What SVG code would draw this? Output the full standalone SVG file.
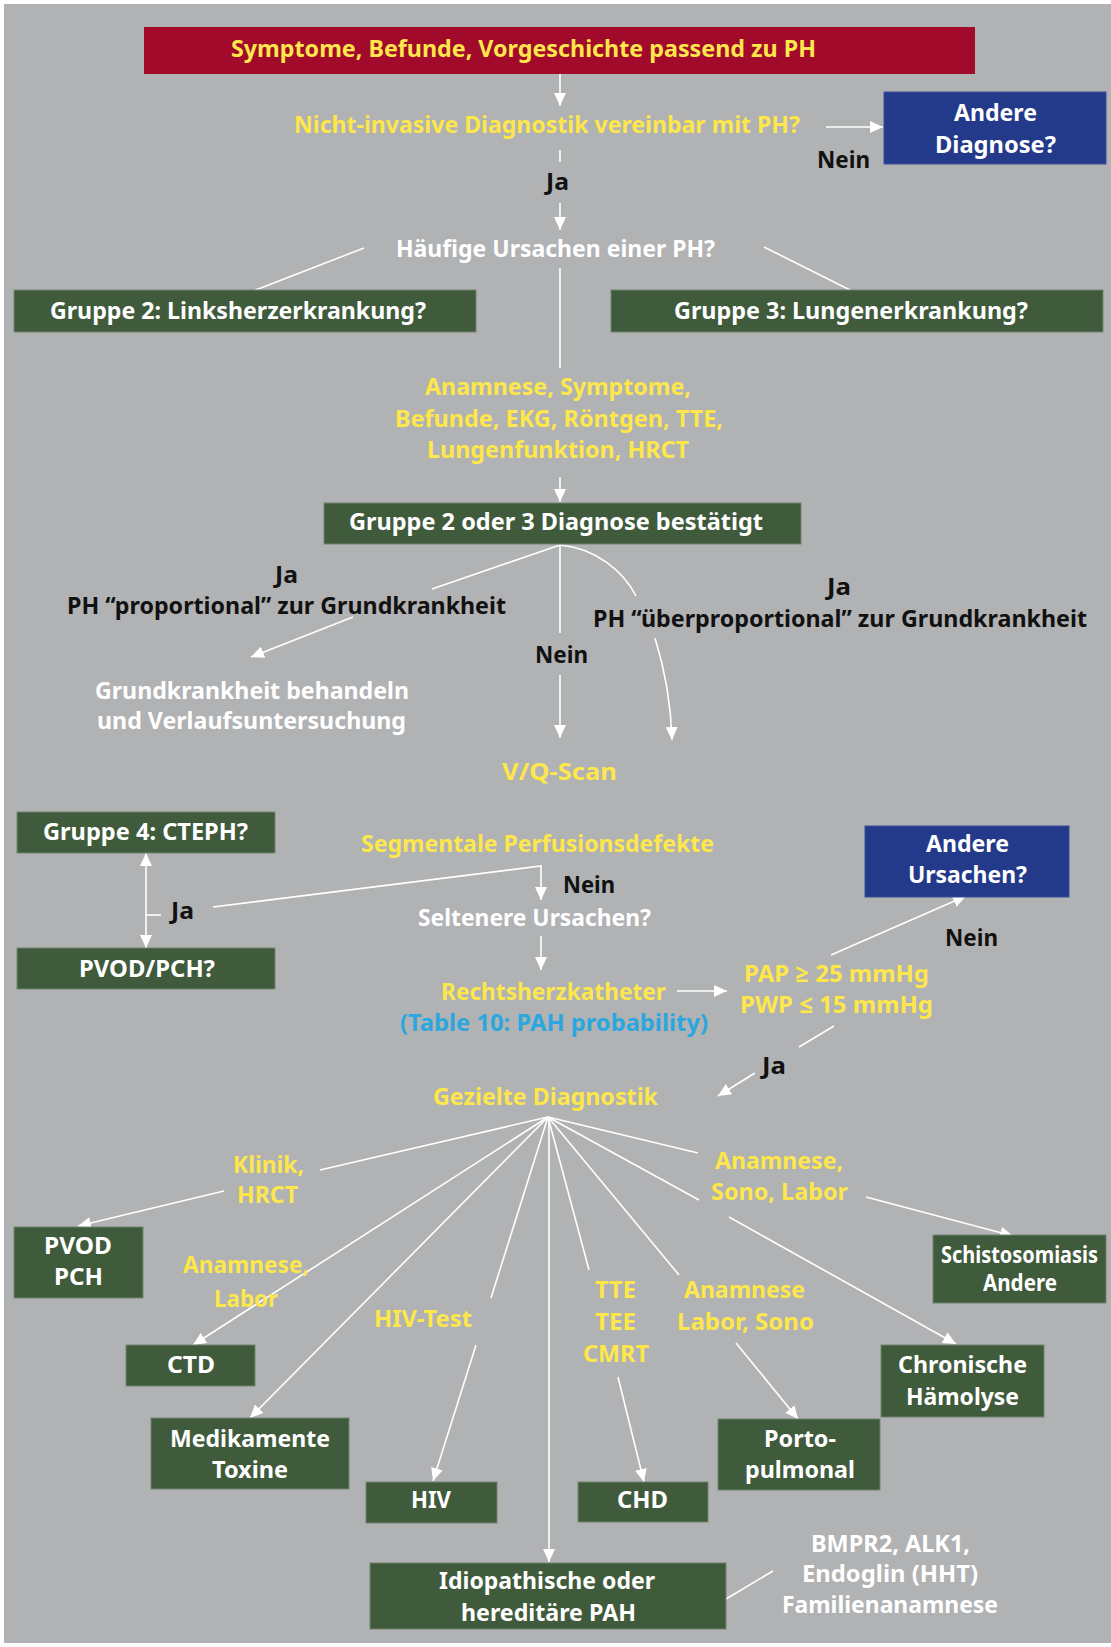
<svg xmlns="http://www.w3.org/2000/svg" width="1111" height="1647" viewBox="0 0 1111 1647">
<defs>
<style>
text{font-family:"Noto Sans","Open Sans","Liberation Sans",sans-serif;font-weight:700;font-size:24px}
.y{fill:#fde74b}.w{fill:#ffffff}.k{fill:#111111}.c{fill:#2ba7df}
.g{fill:#3f5b3c;stroke:#74846f;stroke-width:1}
.b{fill:#233a8b;stroke:#3a4f96;stroke-width:1}
.ln{stroke:#ffffff;stroke-width:1.6;fill:none}
.ar{marker-end:url(#ah)}
</style>
<marker id="ah" viewBox="0 0 13 12" refX="13" refY="6" markerWidth="13" markerHeight="12" markerUnits="userSpaceOnUse" orient="auto-start-reverse"><path d="M0,0 L13,6 L0,12 z" fill="#ffffff"/></marker>
</defs>
<rect x="0" y="0" width="1111" height="1647" fill="#ffffff"/>
<rect x="4" y="4" width="1107" height="1639" fill="#b1b2b4"/>

<g id="connectors">
<line class="ln ar" x1="560" y1="74" x2="560" y2="106"/>
<line class="ln ar" x1="826" y1="127" x2="883" y2="127"/>
<line class="ln" x1="560" y1="150" x2="560" y2="162"/>
<line class="ln ar" x1="560" y1="203" x2="560" y2="230"/>
<line class="ln" x1="364" y1="248" x2="248" y2="293"/>
<line class="ln" x1="764" y1="247" x2="858" y2="294"/>
<line class="ln" x1="560" y1="268" x2="560" y2="368"/>
<line class="ln ar" x1="560" y1="477" x2="560" y2="502"/>
<line class="ln" x1="560" y1="545" x2="432" y2="589"/>
<line class="ln ar" x1="353" y1="617" x2="251" y2="657"/>
<line class="ln" x1="560" y1="545" x2="560" y2="633"/>
<line class="ln ar" x1="560" y1="675" x2="560" y2="738"/>
<path class="ln" d="M560,545 C596,548 624,572 636,596"/>
<path class="ln ar" d="M655,638 C665,670 671,705 672,740"/>
<line class="ln" style="marker-start:url(#ah);marker-end:url(#ah)" x1="146" y1="853" x2="146" y2="948"/>
<line class="ln" x1="146" y1="915" x2="161" y2="915"/>
<polyline class="ln ar" points="213,907 541,866 541,900"/>
<line class="ln ar" x1="541" y1="936" x2="541" y2="970"/>
<line class="ln ar" x1="677" y1="991" x2="727" y2="991"/>
<line class="ln ar" x1="831" y1="955" x2="966" y2="896"/>
<line class="ln" x1="834" y1="1026" x2="799" y2="1047"/>
<line class="ln ar" x1="755" y1="1073" x2="718" y2="1096"/>
<line class="ln" x1="548" y1="1117" x2="320" y2="1170"/>
<line class="ln ar" x1="224" y1="1191" x2="78" y2="1226"/>
<line class="ln ar" x1="548" y1="1117" x2="193" y2="1345"/>
<line class="ln ar" x1="548" y1="1117" x2="250" y2="1418"/>
<line class="ln" x1="548" y1="1117" x2="491" y2="1298"/>
<line class="ln ar" x1="476" y1="1345" x2="433" y2="1481"/>
<line class="ln ar" x1="549" y1="1117" x2="549" y2="1562"/>
<line class="ln" x1="548" y1="1117" x2="589" y2="1270"/>
<line class="ln ar" x1="618" y1="1377" x2="644" y2="1482"/>
<line class="ln" x1="548" y1="1117" x2="679" y2="1275"/>
<line class="ln ar" x1="736" y1="1343" x2="798" y2="1419"/>
<line class="ln" x1="548" y1="1117" x2="698" y2="1153"/>
<line class="ln ar" x1="866" y1="1197" x2="1013" y2="1236"/>
<line class="ln" x1="548" y1="1117" x2="699" y2="1200"/>
<line class="ln ar" x1="729" y1="1217" x2="956" y2="1344"/>
<line class="ln" x1="726" y1="1599" x2="773" y2="1571"/>
</g>

<g id="n-symptome"><rect x="144" y="27" width="831" height="47" fill="#a20a2b"/>
<text class="y" x="231" y="57" font-size="25" textLength="585" lengthAdjust="spacingAndGlyphs">Symptome, Befunde, Vorgeschichte passend zu PH</text></g>

<g id="n-nichtinvasiv"><text class="y" x="294" y="133" textLength="506" lengthAdjust="spacingAndGlyphs">Nicht-invasive Diagnostik vereinbar mit PH?</text></g>

<g id="n-andere-diagnose"><rect class="b" x="884" y="92" width="222" height="72"/>
<text class="w" x="954" y="121" textLength="83" lengthAdjust="spacingAndGlyphs">Andere</text>
<text class="w" x="935" y="153" textLength="121" lengthAdjust="spacingAndGlyphs">Diagnose?</text></g>

<g id="l-labels">
<text class="k" x="817" y="168" textLength="53" lengthAdjust="spacingAndGlyphs">Nein</text>
<text class="k" x="546" y="190" textLength="23" lengthAdjust="spacingAndGlyphs">Ja</text>
<text class="k" x="275" y="583" textLength="23" lengthAdjust="spacingAndGlyphs">Ja</text>
<text class="k" x="67" y="614" textLength="439" lengthAdjust="spacingAndGlyphs">PH “proportional” zur Grundkrankheit</text>
<text class="k" x="827" y="595" textLength="24" lengthAdjust="spacingAndGlyphs">Ja</text>
<text class="k" x="593" y="627" textLength="494" lengthAdjust="spacingAndGlyphs">PH “überproportional” zur Grundkrankheit</text>
<text class="k" x="535" y="663" textLength="53" lengthAdjust="spacingAndGlyphs">Nein</text>
<text class="k" x="563" y="893" textLength="52" lengthAdjust="spacingAndGlyphs">Nein</text>
<text class="k" x="171" y="919" textLength="23" lengthAdjust="spacingAndGlyphs">Ja</text>
<text class="k" x="945" y="946" textLength="53" lengthAdjust="spacingAndGlyphs">Nein</text>
<text class="k" x="762" y="1074" textLength="24" lengthAdjust="spacingAndGlyphs">Ja</text>
</g>

<g id="n-haeufig"><text class="w" x="396" y="257" textLength="319" lengthAdjust="spacingAndGlyphs">Häufige Ursachen einer PH?</text></g>

<g id="n-gruppe2"><rect class="g" x="14" y="290" width="462" height="42"/>
<text class="w" x="50" y="319" textLength="376" lengthAdjust="spacingAndGlyphs">Gruppe 2: Linksherzerkrankung?</text></g>

<g id="n-gruppe3"><rect class="g" x="611" y="290" width="492" height="42"/>
<text class="w" x="674" y="319" textLength="354" lengthAdjust="spacingAndGlyphs">Gruppe 3: Lungenerkrankung?</text></g>

<g id="n-anamnese1">
<text class="y" x="425" y="395" textLength="266" lengthAdjust="spacingAndGlyphs">Anamnese, Symptome,</text>
<text class="y" x="395" y="427" textLength="328" lengthAdjust="spacingAndGlyphs">Befunde, EKG, Röntgen, TTE,</text>
<text class="y" x="427" y="458" textLength="262" lengthAdjust="spacingAndGlyphs">Lungenfunktion, HRCT</text></g>

<g id="n-bestaetigt"><rect class="g" x="324" y="503" width="477" height="41"/>
<text class="w" x="349" y="530" textLength="414" lengthAdjust="spacingAndGlyphs">Gruppe 2 oder 3 Diagnose bestätigt</text></g>

<g id="n-behandeln">
<text class="w" x="95" y="699" textLength="314" lengthAdjust="spacingAndGlyphs">Grundkrankheit behandeln</text>
<text class="w" x="97" y="729" textLength="309" lengthAdjust="spacingAndGlyphs">und Verlaufsuntersuchung</text></g>

<g id="n-vqscan"><text class="y" x="502" y="780" textLength="115" lengthAdjust="spacingAndGlyphs">V/Q-Scan</text></g>

<g id="n-gruppe4"><rect class="g" x="17" y="812" width="258" height="41"/>
<text class="w" x="43" y="840" textLength="205" lengthAdjust="spacingAndGlyphs">Gruppe 4: CTEPH?</text></g>

<g id="n-segmental"><text class="y" x="361" y="852" textLength="353" lengthAdjust="spacingAndGlyphs">Segmentale Perfusionsdefekte</text></g>

<g id="n-andere-ursachen"><rect class="b" x="865" y="826" width="204" height="71"/>
<text class="w" x="926" y="852" textLength="83" lengthAdjust="spacingAndGlyphs">Andere</text>
<text class="w" x="908" y="883" textLength="119" lengthAdjust="spacingAndGlyphs">Ursachen?</text></g>

<g id="n-pvodpch"><rect class="g" x="17" y="948" width="258" height="41"/>
<text class="w" x="79" y="977" textLength="136" lengthAdjust="spacingAndGlyphs">PVOD/PCH?</text></g>

<g id="n-seltenere"><text class="w" x="418" y="926" textLength="233" lengthAdjust="spacingAndGlyphs">Seltenere Ursachen?</text></g>

<g id="n-rechtsherz">
<text class="y" x="441" y="1000" textLength="225" lengthAdjust="spacingAndGlyphs">Rechtsherzkatheter</text>
<text class="c" x="400" y="1031" textLength="308" lengthAdjust="spacingAndGlyphs">(Table 10: PAH probability)</text></g>

<g id="n-pap">
<text class="y" x="744" y="982" textLength="185" lengthAdjust="spacingAndGlyphs">PAP ≥ 25 mmHg</text>
<text class="y" x="740" y="1013" textLength="193" lengthAdjust="spacingAndGlyphs">PWP ≤ 15 mmHg</text></g>

<g id="n-gezielt"><text class="y" x="433" y="1105" textLength="225" lengthAdjust="spacingAndGlyphs">Gezielte Diagnostik</text></g>

<g id="l-tests">
<text class="y" x="233" y="1173" textLength="71" lengthAdjust="spacingAndGlyphs">Klinik,</text>
<text class="y" x="237" y="1203" textLength="61" lengthAdjust="spacingAndGlyphs">HRCT</text>
<text class="y" x="715" y="1169" textLength="128" lengthAdjust="spacingAndGlyphs">Anamnese,</text>
<text class="y" x="711" y="1200" textLength="137" lengthAdjust="spacingAndGlyphs">Sono, Labor</text>
<text class="y" x="183" y="1273" textLength="126" lengthAdjust="spacingAndGlyphs">Anamnese,</text>
<text class="y" x="214" y="1307" textLength="64" lengthAdjust="spacingAndGlyphs">Labor</text>
<text class="y" x="374" y="1327" textLength="98" lengthAdjust="spacingAndGlyphs">HIV-Test</text>
<text class="y" x="595" y="1298" textLength="41" lengthAdjust="spacingAndGlyphs">TTE</text>
<text class="y" x="595" y="1330" textLength="41" lengthAdjust="spacingAndGlyphs">TEE</text>
<text class="y" x="583" y="1362" textLength="66" lengthAdjust="spacingAndGlyphs">CMRT</text>
<text class="y" x="684" y="1298" textLength="121" lengthAdjust="spacingAndGlyphs">Anamnese</text>
<text class="y" x="677" y="1330" textLength="137" lengthAdjust="spacingAndGlyphs">Labor, Sono</text>
</g>

<g id="n-pvod"><rect class="g" x="14" y="1227" width="129" height="71"/>
<text class="w" x="44" y="1254" textLength="68" lengthAdjust="spacingAndGlyphs">PVOD</text>
<text class="w" x="54" y="1285" textLength="49" lengthAdjust="spacingAndGlyphs">PCH</text></g>

<g id="n-schisto"><rect class="g" x="933" y="1235" width="173" height="68"/>
<text class="w" x="941" y="1263" font-size="19" textLength="157" lengthAdjust="spacingAndGlyphs">Schistosomiasis</text>
<text class="w" x="983" y="1291" font-size="19" textLength="74" lengthAdjust="spacingAndGlyphs">Andere</text></g>

<g id="n-ctd"><rect class="g" x="126" y="1345" width="129" height="41"/>
<text class="w" x="167" y="1373" textLength="48" lengthAdjust="spacingAndGlyphs">CTD</text></g>

<g id="n-haemolyse"><rect class="g" x="881" y="1345" width="163" height="72"/>
<text class="w" x="898" y="1373" textLength="129" lengthAdjust="spacingAndGlyphs">Chronische</text>
<text class="w" x="906" y="1405" textLength="113" lengthAdjust="spacingAndGlyphs">Hämolyse</text></g>

<g id="n-medikamente"><rect class="g" x="151" y="1418" width="198" height="71"/>
<text class="w" x="170" y="1447" textLength="160" lengthAdjust="spacingAndGlyphs">Medikamente</text>
<text class="w" x="212" y="1478" textLength="76" lengthAdjust="spacingAndGlyphs">Toxine</text></g>

<g id="n-porto"><rect class="g" x="718" y="1419" width="162" height="71"/>
<text class="w" x="764" y="1447" textLength="72" lengthAdjust="spacingAndGlyphs">Porto-</text>
<text class="w" x="745" y="1478" textLength="110" lengthAdjust="spacingAndGlyphs">pulmonal</text></g>

<g id="n-hiv"><rect class="g" x="366" y="1482" width="131" height="41"/>
<text class="w" x="411" y="1508" textLength="40" lengthAdjust="spacingAndGlyphs">HIV</text></g>

<g id="n-chd"><rect class="g" x="578" y="1482" width="130" height="40"/>
<text class="w" x="617" y="1508" textLength="51" lengthAdjust="spacingAndGlyphs">CHD</text></g>

<g id="n-idiopathisch"><rect class="g" x="370" y="1563" width="356" height="66"/>
<text class="w" x="439" y="1589" textLength="216" lengthAdjust="spacingAndGlyphs">Idiopathische oder</text>
<text class="w" x="461" y="1621" textLength="175" lengthAdjust="spacingAndGlyphs">hereditäre PAH</text></g>

<g id="n-genetik">
<text class="w" x="811" y="1552" textLength="159" lengthAdjust="spacingAndGlyphs">BMPR2, ALK1,</text>
<text class="w" x="802" y="1582" textLength="176" lengthAdjust="spacingAndGlyphs">Endoglin (HHT)</text>
<text class="w" x="782" y="1613" textLength="216" lengthAdjust="spacingAndGlyphs">Familienanamnese</text></g>
</svg>
